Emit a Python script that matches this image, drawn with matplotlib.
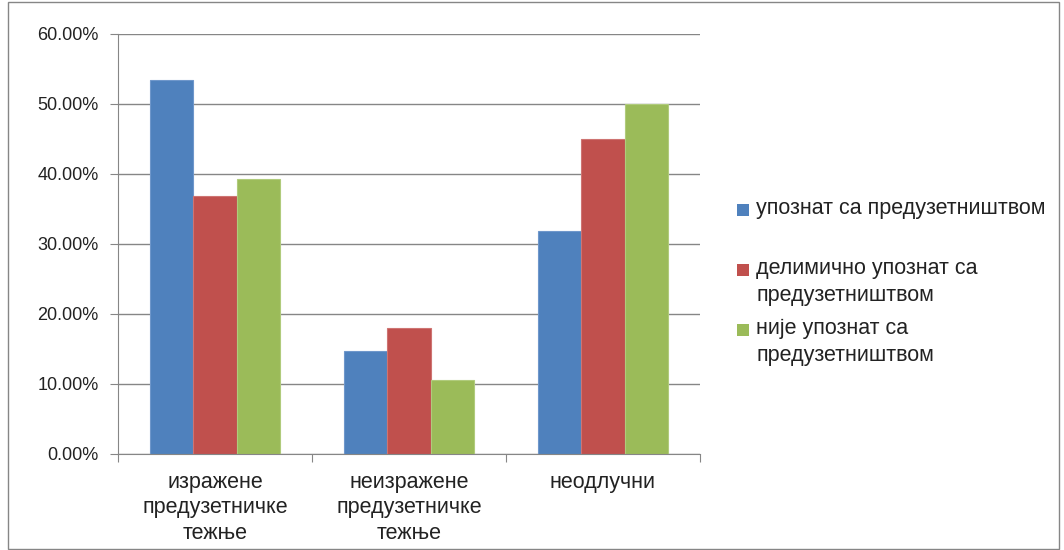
import matplotlib.pyplot as plt
import matplotlib.patches as patches
from matplotlib.ticker import FuncFormatter
import numpy as np

plt.rcParams['font.family'] = ['Liberation Sans', 'DejaVu Sans']

# подаци
categories = ['изражене\nпредузетничке\nтежње', 'неизражене\nпредузетничке\nтежње', 'неодлучни']
series_names = ['упознат са предузетништвом',
                'делимично упознат са\nпредузетништвом',
                'није упознат са\nпредузетништвом']
upoznat = [53.5, 14.7, 31.8]
delimicno = [36.9, 18.0, 45.0]
nije = [39.3, 10.6, 50.0]
series = [upoznat, delimicno, nije]
colors = ['#4F81BD', '#C0504D', '#9BBB59']
edges = ['#6F97CB', '#CE7472', '#B0CB7C']

W, H = 1064, 550
fig = plt.figure(figsize=(W / 100, H / 100), dpi=100)
ax = fig.add_axes([118/W, 96/H, 582/W, 420/H])

x = np.arange(len(categories))
w = 0.222
for i in range(3):
    ax.bar(x + (i - 1) * w, series[i], width=w, color=colors[i],
           edgecolor=edges[i], linewidth=0.8, label=series_names[i], zorder=2)

ax.set_xlim(-0.5, 2.5)
ax.set_ylim(0, 60)
ax.set_yticks(np.arange(0, 61, 10))
ax.yaxis.set_major_formatter(FuncFormatter(lambda v, p: '{:.2f}%'.format(v)))
ax.yaxis.grid(True, color='#868686', linewidth=1, zorder=0)
ax.tick_params(axis='y', length=6, color='#868686', labelsize=13, pad=8,
               labelcolor='#222222')

# подеоци између категорија, натписи у средини
ax.set_xticks([-0.5, 0.5, 1.5, 2.5])
ax.set_xticklabels([])
ax.tick_params(axis='x', which='major', length=6, color='#868686')
ax.set_xticks(x, minor=True)
ax.set_xticklabels(categories, minor=True, fontsize=15.5, linespacing=1.27,
                   color='#222222')
ax.tick_params(axis='x', which='minor', length=0, pad=13)

for s in ['top', 'right']:
    ax.spines[s].set_visible(False)
for s in ['left', 'bottom']:
    ax.spines[s].set_color('#868686')

# легенда као у Excel-у: квадрат уз први ред натписа
for i, name in enumerate(series_names):
    yc = 210 + 60 * i
    fig.patches.append(patches.Rectangle((737/W, 1 - (yc + 6)/H), 12/W, 12/H,
                                         transform=fig.transFigure,
                                         facecolor=colors[i], edgecolor='none'))
    fig.text(756/W, 1 - (yc - 12)/H, name, fontsize=15.5, color='#222222',
             va='top', ha='left', linespacing=1.35)

# оквир графикона
fig.patches.append(patches.Rectangle((8/W, 0.002), 1051/W, 0.995,
                                     transform=fig.transFigure, fill=False,
                                     edgecolor='#868686', linewidth=1))

fig.savefig('out.png', dpi=100)
